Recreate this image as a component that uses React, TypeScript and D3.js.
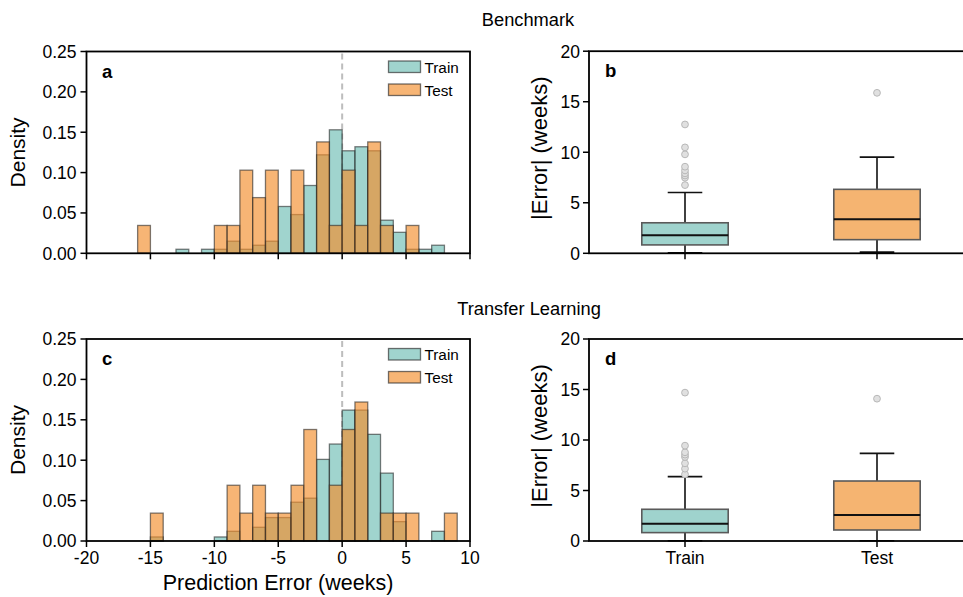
import React from "react";
import * as d3 from "d3";

// ---------- data ----------
const histXTicks = [-20, -15, -10, -5, 0, 5, 10];
const histYTicks = [0, 0.05, 0.1, 0.15, 0.2, 0.25];
const boxYTicks = [0, 5, 10, 15, 20];
const boxCategories = ["Train", "Test"];

// Benchmark histogram (bin left edge, bin width 1 week)
const benchTrainBins = [-13, -11, -10, -9, -8, -7, -6, -5, -4, -3, -2, -1, 0, 1, 2, 3, 4, 5, 6, 7];
const benchTrainDensity = [0.005, 0.005, 0.005, 0.015, 0.005, 0.01, 0.015, 0.058, 0.048, 0.084, 0.122, 0.153, 0.127, 0.132, 0.127, 0.041, 0.026, 0.005, 0.005, 0.01];
const benchTestBins = [-16, -10, -9, -8, -7, -6, -4, -2, -1, 0, 1, 2, 3, 5];
const benchTestDensity = [0.0345, 0.0345, 0.0345, 0.103, 0.069, 0.103, 0.103, 0.138, 0.0345, 0.103, 0.0345, 0.138, 0.0345, 0.0345];

// Transfer learning histogram
const transTrainBins = [-15, -10, -9, -7, -6, -5, -4, -3, -2, -1, 0, 1, 2, 3, 4, 7];
const transTrainDensity = [0.005, 0.005, 0.012, 0.017, 0.029, 0.029, 0.048, 0.053, 0.101, 0.12, 0.162, 0.162, 0.132, 0.084, 0.024, 0.012];
const transTestBins = [-15, -9, -8, -7, -6, -5, -4, -3, -1, 0, 1, 3, 4, 5, 8];
const transTestDensity = [0.0345, 0.069, 0.0345, 0.069, 0.0345, 0.0345, 0.069, 0.138, 0.069, 0.138, 0.172, 0.0345, 0.0345, 0.0345, 0.0345];

// Box plot stats [Train, Test]
const benchQ1 = [0.83, 1.35];
const benchMedian = [1.78, 3.36];
const benchQ3 = [3.02, 6.33];
const benchWhiskLo = [0.05, 0.12];
const benchWhiskHi = [6.02, 9.52];
const benchTrainOutliers = [6.75, 7.48, 7.7, 7.91, 8.2, 8.57, 9.79, 10.48, 12.75];
const benchTestOutliers = [15.88];

const transQ1 = [0.83, 1.09];
const transMedian = [1.72, 2.57];
const transQ3 = [3.14, 5.94];
const transWhiskLo = [0.02, 0.02];
const transWhiskHi = [6.37, 8.68];
const transTrainOutliers = [6.6, 7.16, 7.69, 8.32, 8.55, 8.78, 9.44, 14.69];
const transTestOutliers = [14.09];

// ---------- style ----------
const FONT = "'Liberation Sans', Arial, Helvetica, sans-serif";
const TRAIN_BASE = "rgb(82,177,166)";
const TEST_BASE = "rgb(242,142,43)";
const TRAIN_BOX = "rgb(159,211,205)";
const TEST_BOX = "rgb(245,180,113)";
const SPINE = 1.8;

type HistProps = {
  top: number;
  bottom: number;
  label: string;
  trainBins: number[];
  trainDensity: number[];
  testBins: number[];
  testDensity: number[];
  showXLabels: boolean;
};

const HL = 86.5;
const HR = 470;

function Histogram(p: HistProps) {
  const x = d3.scaleLinear().domain([-20, 10]).range([HL, HR]);
  const y = d3.scaleLinear().domain([0, 0.25]).range([p.bottom, p.top]);
  const fmt = d3.format(".2f");
  const bar = (b: number, v: number, fill: string, op: number, key: string) => (
    <rect
      key={key}
      x={x(b)}
      y={y(v)}
      width={x(b + 1) - x(b)}
      height={y(0) - y(v)}
      fill={fill}
      fillOpacity={op}
      stroke="rgba(40,40,40,0.6)"
      strokeWidth={1.3}
    />
  );
  return (
    <g>
      <line x1={x(0)} x2={x(0)} y1={p.top + 2} y2={p.bottom} stroke="#bdbdbd" strokeWidth={2} strokeDasharray="6,4" />
      {p.trainBins.map((b, i) => bar(b, p.trainDensity[i], TRAIN_BASE, 0.55, "tr" + i))}
      {p.testBins.map((b, i) => bar(b, p.testDensity[i], TEST_BASE, 0.65, "te" + i))}
      <rect x={HL} y={p.top} width={HR - HL} height={p.bottom - p.top} fill="none" stroke="#000" strokeWidth={SPINE} />
      {histYTicks.map((t) => (
        <g key={"y" + t}>
          <line x1={HL - 6} x2={HL} y1={y(t)} y2={y(t)} stroke="#000" strokeWidth={1.5} />
          <text x={HL - 10} y={y(t)} dy="0.36em" textAnchor="end" fontSize={17.5} fontFamily={FONT}>
            {fmt(t)}
          </text>
        </g>
      ))}
      {histXTicks.map((t) => (
        <g key={"x" + t}>
          <line x1={x(t)} x2={x(t)} y1={p.bottom} y2={p.bottom + 6} stroke="#000" strokeWidth={1.5} />
          {p.showXLabels && (
            <text x={x(t)} y={p.bottom + 23} textAnchor="middle" fontSize={17.5} fontFamily={FONT}>
              {String(t)}
            </text>
          )}
        </g>
      ))}
      <text x={102} y={p.top + 26} fontSize={18.5} fontWeight="bold" fontFamily={FONT}>
        {p.label}
      </text>
      {/* legend */}
      <rect x={388.5} y={p.top + 9.5} width={32} height={11.5} fill={TRAIN_BASE} fillOpacity={0.55} stroke="rgba(40,40,40,0.65)" strokeWidth={1.3} />
      <text x={424.5} y={p.top + 21} fontSize={15.3} fontFamily={FONT}>Train</text>
      <rect x={388.5} y={p.top + 32.5} width={32} height={11.5} fill={TEST_BASE} fillOpacity={0.65} stroke="rgba(40,40,40,0.65)" strokeWidth={1.3} />
      <text x={424.5} y={p.top + 44} fontSize={15.3} fontFamily={FONT}>Test</text>
      <text
        transform={`translate(${24.5},${(p.top + p.bottom) / 2}) rotate(-90)`}
        textAnchor="middle"
        fontSize={21}
        fontFamily={FONT}
      >
        Density
      </text>
    </g>
  );
}

type BoxProps = {
  top: number;
  bottom: number;
  label: string;
  q1: number[];
  median: number[];
  q3: number[];
  lo: number[];
  hi: number[];
  outliers: number[][];
  showXLabels: boolean;
};

const BL = 589;
const BR = 973;

function BoxPanel(p: BoxProps) {
  const x = d3.scaleLinear().domain([-0.5, 1.5]).range([BL, BR]);
  const y = d3.scaleLinear().domain([0, 20]).range([p.bottom, p.top]);
  const halfW = 0.225;
  const capW = 0.09;
  const fills = [TRAIN_BOX, TEST_BOX];
  return (
    <g>
      {boxCategories.map((c, i) => (
        <g key={c}>
          <line x1={x(i)} x2={x(i)} y1={y(p.q3[i])} y2={y(p.hi[i])} stroke="#111" strokeWidth={1.6} />
          <line x1={x(i)} x2={x(i)} y1={y(p.q1[i])} y2={y(p.lo[i])} stroke="#111" strokeWidth={1.6} />
          <line x1={x(i - capW)} x2={x(i + capW)} y1={y(p.hi[i])} y2={y(p.hi[i])} stroke="#111" strokeWidth={1.6} />
          <line x1={x(i - capW)} x2={x(i + capW)} y1={y(p.lo[i])} y2={y(p.lo[i])} stroke="#111" strokeWidth={1.6} />
          <rect
            x={x(i - halfW)}
            y={y(p.q3[i])}
            width={x(i + halfW) - x(i - halfW)}
            height={y(p.q1[i]) - y(p.q3[i])}
            fill={fills[i]}
            stroke="#5a5a5a"
            strokeWidth={1.6}
          />
          <line x1={x(i - halfW)} x2={x(i + halfW)} y1={y(p.median[i])} y2={y(p.median[i])} stroke="#111" strokeWidth={2} />
          {p.outliers[i].map((o, j) => (
            <circle key={j} cx={x(i)} cy={y(o)} r={3.4} fill="#e0e0e0" stroke="#b8b8b8" strokeWidth={1} />
          ))}
        </g>
      ))}
      <rect x={BL} y={p.top} width={BR - BL} height={p.bottom - p.top} fill="none" stroke="#000" strokeWidth={SPINE} />
      {boxYTicks.map((t) => (
        <g key={"y" + t}>
          <line x1={BL - 6} x2={BL} y1={y(t)} y2={y(t)} stroke="#000" strokeWidth={1.5} />
          <text x={BL - 9} y={y(t)} dy="0.36em" textAnchor="end" fontSize={17.5} fontFamily={FONT}>
            {t}
          </text>
        </g>
      ))}
      {boxCategories.map((c, i) => (
        <g key={"xt" + c}>
          <line x1={x(i)} x2={x(i)} y1={p.bottom} y2={p.bottom + 6} stroke="#000" strokeWidth={1.5} />
          {p.showXLabels && (
            <text x={x(i)} y={p.bottom + 23} textAnchor="middle" fontSize={17.5} fontFamily={FONT}>
              {c}
            </text>
          )}
        </g>
      ))}
      <text x={605} y={p.top + 26} fontSize={18.5} fontWeight="bold" fontFamily={FONT}>
        {p.label}
      </text>
      <text
        transform={`translate(${547},${(p.top + p.bottom) / 2 - 4}) rotate(-90)`}
        textAnchor="middle"
        fontSize={22}
        fontFamily={FONT}
      >
        |Error| (weeks)
      </text>
    </g>
  );
}

export default function App() {
  return (
    <svg
      width={963}
      height={597}
      style={{ position: "absolute", left: 0, top: 0, background: "#fff" }}
      xmlns="http://www.w3.org/2000/svg"
    >
      <rect x={0} y={0} width={963} height={597} fill="#fff" />
      <text x={528} y={26} textAnchor="middle" fontSize={18.3} fontFamily={FONT}>Benchmark</text>
      <text x={529} y={315} textAnchor="middle" fontSize={18.3} fontFamily={FONT}>Transfer Learning</text>
      <Histogram
        top={51.5}
        bottom={253.3}
        label="a"
        trainBins={benchTrainBins}
        trainDensity={benchTrainDensity}
        testBins={benchTestBins}
        testDensity={benchTestDensity}
        showXLabels={false}
      />
      <Histogram
        top={339}
        bottom={541}
        label="c"
        trainBins={transTrainBins}
        trainDensity={transTrainDensity}
        testBins={transTestBins}
        testDensity={transTestDensity}
        showXLabels={true}
      />
      <BoxPanel
        top={51.2}
        bottom={253.3}
        label="b"
        q1={benchQ1}
        median={benchMedian}
        q3={benchQ3}
        lo={benchWhiskLo}
        hi={benchWhiskHi}
        outliers={[benchTrainOutliers, benchTestOutliers]}
        showXLabels={false}
      />
      <BoxPanel
        top={339}
        bottom={541}
        label="d"
        q1={transQ1}
        median={transMedian}
        q3={transQ3}
        lo={transWhiskLo}
        hi={transWhiskHi}
        outliers={[transTrainOutliers, transTestOutliers]}
        showXLabels={true}
      />
      <text x={278} y={590} textAnchor="middle" fontSize={21.5} fontFamily={FONT}>Prediction Error (weeks)</text>
    </svg>
  );
}
